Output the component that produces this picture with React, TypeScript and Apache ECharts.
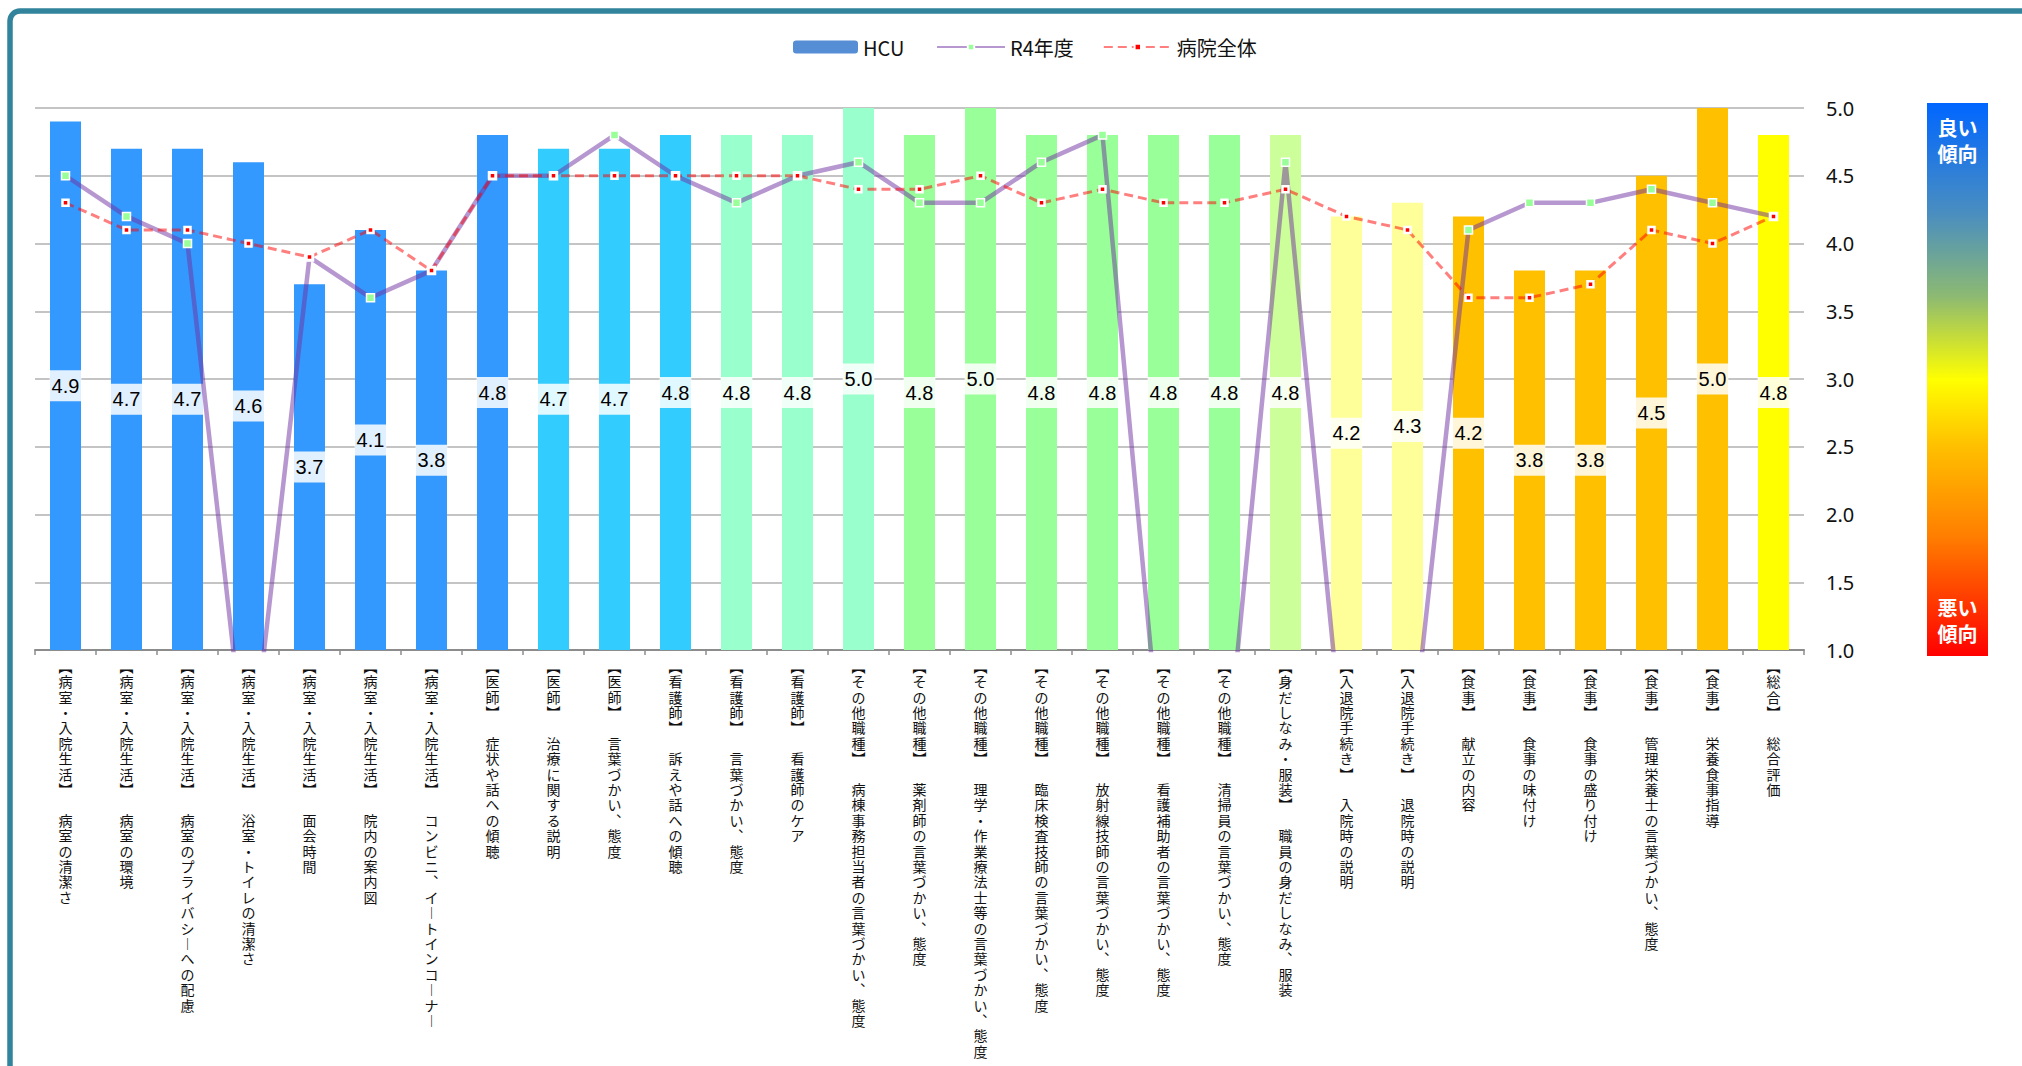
import React, { useEffect, useRef } from 'react';
import * as echarts from 'echarts';

// ---- data ----
const groups = [
  '病室・入院生活', '病室・入院生活', '病室・入院生活', '病室・入院生活', '病室・入院生活', '病室・入院生活', '病室・入院生活',
  '医師', '医師', '医師',
  '看護師', '看護師', '看護師',
  'その他職種', 'その他職種', 'その他職種', 'その他職種', 'その他職種', 'その他職種', 'その他職種',
  '身だしなみ・服装',
  '入退院手続き', '入退院手続き',
  '食事', '食事', '食事', '食事', '食事',
  '総合',
];
const items = [
  '病室の清潔さ', '病室の環境', '病室のプライバシーへの配慮', '浴室・トイレの清潔さ', '面会時間', '院内の案内図', 'コンビニ、イートインコーナー',
  '症状や話への傾聴', '治療に関する説明', '言葉づかい、態度',
  '訴えや話への傾聴', '言葉づかい、態度', '看護師のケア',
  '病棟事務担当者の言葉づかい、態度', '薬剤師の言葉づかい、態度', '理学・作業療法士等の言葉づかい、態度', '臨床検査技師の言葉づかい、態度', '放射線技師の言葉づかい、態度', '看護補助者の言葉づかい、態度', '清掃員の言葉づかい、態度',
  '職員の身だしなみ、服装',
  '入院時の説明', '退院時の説明',
  '献立の内容', '食事の味付け', '食事の盛り付け', '管理栄養士の言葉づかい、態度', '栄養食事指導',
  '総合評価',
];
const hcuScores = [4.9, 4.7, 4.7, 4.6, 3.7, 4.1, 3.8, 4.8, 4.7, 4.7, 4.8, 4.8, 4.8, 5.0, 4.8, 5.0, 4.8, 4.8, 4.8, 4.8, 4.8, 4.2, 4.3, 4.2, 3.8, 3.8, 4.5, 5.0, 4.8];
const r4Scores = [4.5, 4.2, 4.0, 0, 3.9, 3.6, 3.8, 4.5, 4.5, 4.8, 4.5, 4.3, 4.5, 4.6, 4.3, 4.3, 4.6, 4.8, 0, 0, 4.6, 0, 0, 4.1, 4.3, 4.3, 4.4, 4.3, 4.2];
const hospitalScores = [4.3, 4.1, 4.1, 4.0, 3.9, 4.1, 3.8, 4.5, 4.5, 4.5, 4.5, 4.5, 4.5, 4.4, 4.4, 4.5, 4.3, 4.4, 4.3, 4.3, 4.4, 4.2, 4.1, 3.6, 3.6, 3.7, 4.1, 4.0, 4.2];
const yMin = 1;
const yMax = 5;
const yStep = 0.5;

// ---- styles ----
const barColors = [
  '#3399FF', '#3399FF', '#3399FF', '#3399FF', '#3399FF', '#3399FF', '#3399FF', '#3399FF',
  '#33CCFF', '#33CCFF', '#33CCFF',
  '#99FFCC', '#99FFCC', '#99FFCC',
  '#99FF99', '#99FF99', '#99FF99', '#99FF99', '#99FF99', '#99FF99',
  '#CCFF99',
  '#FFFF99', '#FFFF99',
  '#FFC000', '#FFC000', '#FFC000', '#FFC000', '#FFC000',
  '#FFFF00',
];

const verticalForms: Record<string, string> = { '【': '︻', '】': '︼', '、': '︑', 'ー': '︱' };
const toVertical = (s: string) => Array.from(s).map((c) => verticalForms[c] ?? c).join('\n');

const JP = '"Noto Sans CJK JP", "Noto Sans", sans-serif';

export default function App() {
  const ref = useRef<HTMLDivElement>(null);
  useEffect(() => {
    if (!ref.current) return;
    const chart = echarts.init(ref.current, null, { renderer: 'svg' });
    const labels = groups.map((g, i) => toVertical(`【${g}】　${items[i]}`));
    chart.setOption({
      animation: false,
      backgroundColor: '#ffffff',
      textStyle: { fontFamily: JP },
      grid: { left: 35, right: 218, top: 108, bottom: 416, outerBoundsMode: 'none' },
      legend: [
        {
          data: ['HCU'], left: 788, top: 32, itemWidth: 65, itemHeight: 13,
          textStyle: { fontSize: 20, color: '#111', fontFamily: JP },
        },
        {
          data: ['R4年度', '病院全体'], left: 931, top: 32, itemWidth: 68, itemHeight: 8, itemGap: 29,
          textStyle: { fontSize: 20, color: '#111', fontFamily: JP },
        },
      ],
      xAxis: {
        type: 'category',
        data: labels,
        axisLine: { lineStyle: { color: '#8C8C8C', width: 2 } },
        axisTick: { show: true, length: 5, lineStyle: { color: '#8C8C8C', width: 1.5 } },
        axisLabel: { interval: 0, fontSize: 14, lineHeight: 15.4, color: '#111', margin: 8, fontFamily: JP },
      },
      yAxis: {
        type: 'value', position: 'right', min: yMin, max: yMax, interval: yStep,
        axisLine: { show: false }, axisTick: { show: false },
        splitLine: { lineStyle: { color: '#C4C4C4', width: 2 } },
        axisLabel: { formatter: (v: number) => v.toFixed(1), fontSize: 20, color: '#111', margin: 22, fontFamily: '"Noto Sans", sans-serif' },
      },
      series: [
        {
          name: 'HCU', type: 'bar', barWidth: 31, clip: true,
          itemStyle: { color: '#558ED5' },
          data: hcuScores.map((v, i) => ({ value: v, itemStyle: { color: barColors[i] } })),
          label: {
            show: true, position: 'inside', formatter: (p: any) => Number(p.value).toFixed(1),
            fontSize: 20, fontFamily: '"Liberation Sans", Arial, sans-serif', color: '#000',
            backgroundColor: 'rgba(255,255,255,0.85)', padding: [6, 2, 5, 2],
          },
        },
        {
          name: 'R4年度', type: 'line', data: r4Scores, clip: true, showAllSymbol: true,
          symbol: 'rect', symbolSize: 8,
          itemStyle: { color: '#99FF99', borderColor: '#FFFFFF', borderWidth: 1.5 },
          lineStyle: { color: 'rgba(112,48,160,0.5)', width: 4.5 },
        },
        {
          name: '病院全体', type: 'line', data: hospitalScores, clip: true, showAllSymbol: true,
          symbol: 'rect', symbolSize: 6,
          itemStyle: { color: '#FF0000', borderColor: '#FFFFFF', borderWidth: 2.5 },
          lineStyle: { color: 'rgba(255,0,0,0.5)', width: 3, type: [9, 5] },
        },
      ],
      graphic: [
        {
          type: 'rect', silent: true, z: 100,
          shape: { x: 10, y: 11, width: 2200, height: 1300, r: 10 },
          style: { fill: 'none', stroke: '#31849B', lineWidth: 5.5 },
        },
        {
          type: 'rect', silent: true,
          shape: { x: 1927, y: 103, width: 61, height: 553 },
          style: {
            fill: new echarts.graphic.LinearGradient(0, 0, 0, 1, [
              { offset: 0, color: '#0066FF' },
              { offset: 0.2, color: '#4A8EC0' },
              { offset: 0.35, color: '#8DBA72' },
              { offset: 0.5, color: '#FFFF00' },
              { offset: 0.62, color: '#FFC000' },
              { offset: 0.78, color: '#FF8000' },
              { offset: 1, color: '#FF0000' },
            ]),
          },
        },
        {
          type: 'text', silent: true, x: 1957.5, y: 114,
          style: { text: '良い\n傾向', fill: '#FFFFFF', fontSize: 20, fontWeight: 'bold', fontFamily: JP, align: 'center', verticalAlign: 'top', lineHeight: 26 },
        },
        {
          type: 'text', silent: true, x: 1957.5, y: 594,
          style: { text: '悪い\n傾向', fill: '#FFFFFF', fontSize: 20, fontWeight: 'bold', fontFamily: JP, align: 'center', verticalAlign: 'top', lineHeight: 26 },
        },
      ],
    });
    return () => chart.dispose();
  }, []);
  return <div ref={ref} style={{ position: 'absolute', left: 0, top: 0, width: 2022, height: 1066 }} />;
}
